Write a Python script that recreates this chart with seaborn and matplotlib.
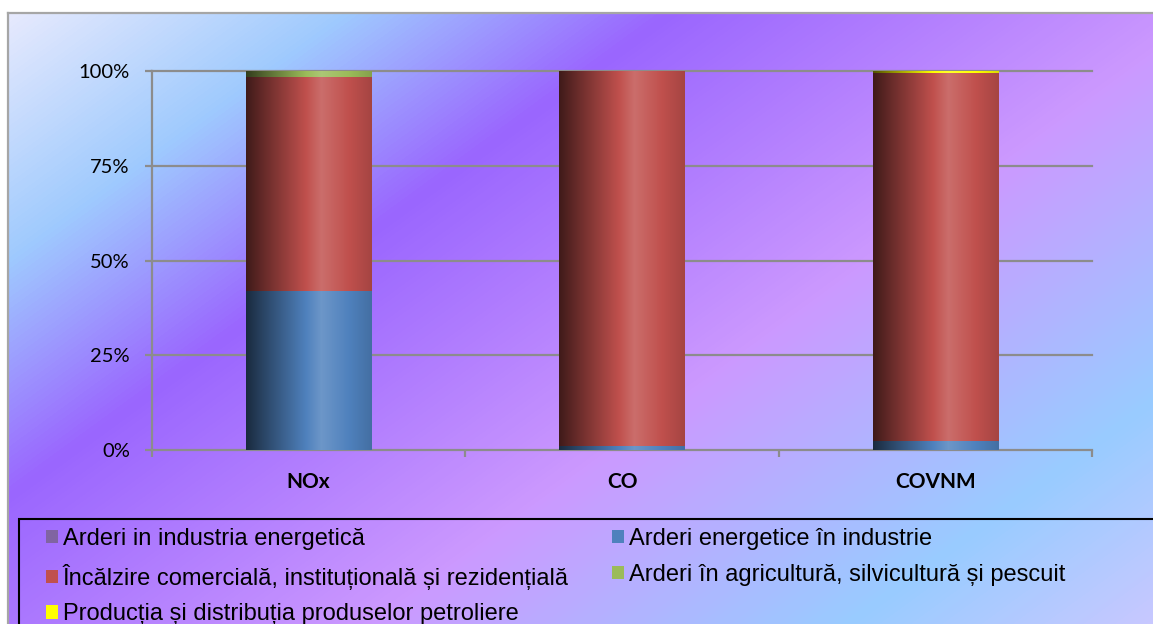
import numpy as np
import pandas as pd
import matplotlib
matplotlib.use("Agg")
import matplotlib.pyplot as plt
import seaborn as sns
from matplotlib.patches import Patch, Rectangle
from matplotlib.lines import Line2D
from matplotlib.colors import LinearSegmentedColormap, to_rgb
from matplotlib.font_manager import FontProperties

# Share of each source category in total emissions, per pollutant (%)
pollutants = ["NOx", "CO", "COVNM"]
series_names = [
    "Arderi in industria energetică",
    "Arderi energetice în industrie",
    "Încălzire comercială, instituțională și rezidențială",
    "Arderi în agricultură, silvicultură și pescuit",
    "Producția și distribuția produselor petroliere",
]
energy_industry = [0.0, 0.0, 0.0]
industry_combustion = [42.0, 1.1, 2.5]
residential_heating = [56.5, 98.9, 97.0]
agriculture_combustion = [1.5, 0.0, 0.0]
petroleum_distribution = [0.0, 0.0, 0.5]
series_values = [energy_industry, industry_combustion, residential_heating,
                 agriculture_combustion, petroleum_distribution]
series_colors = ["#8064A2", "#4F81BD", "#C0504D", "#9BBB59", "#FFFF00"]

tick_values = [0, 25, 50, 75, 100]
tick_labels = ["0%", "25%", "50%", "75%", "100%"]

W, H = 1153, 624
GRID = "#8c8c8c"

fig = plt.figure(figsize=(W / 100, H / 100), dpi=100, facecolor="white")

# Diagonal multi-colour backdrop of the chart area
bg = fig.add_axes([8 / W, 0, 1 - 8 / W, 1 - 13 / H])
bg.set_axis_off()
xs = np.arange(8, W, dtype=float)
ys = np.arange(13, H, dtype=float)
t = (0.73 * xs[None, :] + ys[:, None]) / (0.73 * W + H)
bg_cmap = LinearSegmentedColormap.from_list(
    "backdrop",
    [(0.0, "#ececfd"), (0.18, "#9fcafe"), (0.34, "#9a66fe"),
     (0.61, "#cc99ff"), (0.85, "#99ccff"), (1.0, "#c8c8ff")],
)
bg.imshow(t, cmap=bg_cmap, vmin=0, vmax=1, aspect="auto",
          extent=(0, 1, 0, 1), origin="upper", interpolation="bilinear")
bg.set_xlim(0, 1)
bg.set_ylim(0, 1)

fig.add_artist(Line2D([8 / W, 1], [1 - 13 / H] * 2, color="#a6a6a6", lw=1.6))
fig.add_artist(Line2D([8 / W] * 2, [0, 1 - 13 / H], color="#a6a6a6", lw=1.6))

# Plot area
ax = fig.add_axes([152 / W, 1 - 450 / H, 940 / W, 379 / H])
ax.patch.set_alpha(0)

bottoms = np.zeros(len(pollutants))
for name, vals, col in zip(series_names, series_values, series_colors):
    df = pd.DataFrame({"pollutant": pollutants, "share": vals})
    sns.barplot(data=df, x="pollutant", y="share", color=col, width=0.4,
                bottom=bottoms.copy(), errorbar=None, saturation=1,
                linewidth=0, ax=ax, zorder=2)
    bottoms += np.asarray(vals)

# Cylinder-like horizontal shading on every segment
u_stops = [0.0, 0.15, 0.6, 1.0]
v_stops = [0.33, 0.55, 1.17, 0.86]
u = np.linspace(0, 1, 200)
shade = np.interp(u, u_stops, v_stops)
for patch in list(ax.patches):
    h = patch.get_height()
    if h <= 0:
        continue
    x, y, w = patch.get_x(), patch.get_y(), patch.get_width()
    base = np.array(to_rgb(patch.get_facecolor()))
    row = np.where(shade[:, None] <= 1,
                   base[None, :] * shade[:, None],
                   base[None, :] + (1 - base[None, :]) * (shade[:, None] - 1))
    row = np.clip(row, 0, 1)
    ax.imshow(row[None, :, :], extent=(x, x + w, y, y + h), aspect="auto",
              interpolation="bilinear", zorder=3)

ax.set_xlim(-0.5, len(pollutants) - 0.5)
ax.set_ylim(0, 100)
ax.set_xlabel("")
ax.set_ylabel("")

for yv in tick_values[1:]:
    ax.axhline(yv, color=GRID, lw=1.6, zorder=1, clip_on=False)

for side in ["top", "right"]:
    ax.spines[side].set_visible(False)
for side in ["left", "bottom"]:
    ax.spines[side].set_color(GRID)
    ax.spines[side].set_linewidth(1.6)

ax.set_yticks(tick_values, tick_labels)
ax.tick_params(axis="y", length=5, width=1.6, color=GRID, pad=11)
for lbl in ax.get_yticklabels():
    lbl.set_fontfamily("Lato")
    lbl.set_fontsize(14.5)
    lbl.set_color("black")

ax.set_xticks(range(len(pollutants)), pollutants)
ax.set_xticks(np.arange(-0.5, len(pollutants), 1.0), minor=True)
ax.tick_params(axis="x", which="major", length=0, pad=15.5)
ax.tick_params(axis="x", which="minor", length=5, width=1.6, color=GRID)
for lbl in ax.get_xticklabels():
    lbl.set_fontfamily("Lato")
    lbl.set_fontweight("bold")
    lbl.set_fontsize(15)
    lbl.set_color("black")

# Legend frame and the two legend columns
fig.add_artist(Rectangle((19 / W, -0.1), 1.0, (1 - 519 / H) + 0.1,
                         transform=fig.transFigure, fill=False,
                         edgecolor="black", lw=1.5, zorder=5))
handles = [Patch(facecolor=c, edgecolor="none") for c in series_colors]
leg_font = FontProperties(family="Liberation Sans", size=17)
common = dict(loc="upper left", frameon=False, prop=leg_font,
              handlelength=0.51, handleheight=0.51, handletextpad=0.21,
              labelspacing=0.58, borderaxespad=0, borderpad=0)
for idx, x0 in [([0, 2, 4], 46), ([1, 3], 612)]:
    fig.legend([handles[i] for i in idx], [series_names[i] for i in idx],
               bbox_to_anchor=(x0 / W, 1 - 528 / H), **common)

fig.savefig("out.png", dpi=100, facecolor="white")
